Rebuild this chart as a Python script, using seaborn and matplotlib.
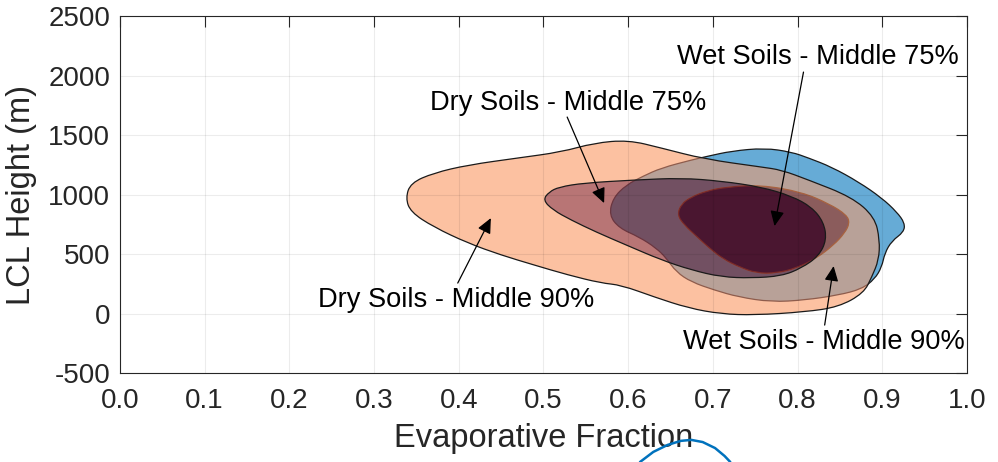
import numpy as np
import matplotlib
matplotlib.use('Agg')
import seaborn as sns
import matplotlib.pyplot as plt
from matplotlib.path import Path
from matplotlib.patches import PathPatch

sns.set_theme(style='white')
plt.rcParams['font.family'] = ['Liberation Sans', 'DejaVu Sans']
plt.rcParams['axes.unicode_minus'] = False

# contour outlines (evaporative fraction, LCL height in m)
dry90_ef = [.3373, .3432, .3704, .4107, .4698, .5207, .5598, .6000, .6391, .6899, .7574, .7811,
            .8130, .8639, .8911, .8970, .8959, .8876, .8781, .8485, .8083, .7491, .7101, .6710,
            .6308, .5917, .5680, .5290, .4888, .4497, .4107, .3704, .3432]
dry90_lcl = [971, 1097, 1181, 1248, 1307, 1357, 1433, 1458, 1391, 1298, 1231, 1206,
             1122, 979, 811, 618, 450, 307, 172, 55, 13, -13, -4, 46,
             139, 239, 256, 324, 408, 492, 592, 727, 853]

dry75_ef = [.4994, .5065, .5183, .5479, .6071, .6627, .7101, .7574, .7929, .8166, .8308, .8343,
            .8249, .8047, .7811, .7456, .7101, .6746, .6391, .5976, .5621, .5325, .5112]
dry75_lcl = [954, 1021, 1063, 1097, 1122, 1139, 1113, 1063, 987, 895, 769, 618,
             483, 382, 315, 298, 307, 366, 450, 576, 685, 786, 870]

wet90_ef = [.5775, .5822, .5976, .6178, .6391, .6746, .6947, .7219, .7609, .7929, .8130, .8402,
            .8722, .8994, .9172, .9266, .9254, .9112, .9030, .8994, .8911, .8757, .8485, .8083,
            .7692, .7302, .7018, .6746, .6568, .6450, .6331, .6130, .5893]
wet90_lcl = [828, 971, 1080, 1155, 1223, 1290, 1323, 1365, 1391, 1357, 1307, 1231,
             1105, 971, 853, 760, 685, 609, 508, 391, 290, 206, 155, 113,
             97, 139, 197, 265, 349, 466, 550, 643, 718]

wet75_ef = [.6580, .6627, .6746, .6923, .7160, .7574, .8047, .8379, .8580, .8615, .8556, .8426,
            .8225, .7988, .7751, .7515, .7314, .7124, .6959, .6805, .6663]
wet75_lcl = [828, 920, 979, 1029, 1063, 1080, 1021, 920, 828, 760, 676, 576,
             466, 382, 340, 340, 391, 458, 550, 651, 744]

ann_labels = ['Wet Soils - Middle 75%', 'Dry Soils - Middle 75%',
              'Dry Soils - Middle 90%', 'Wet Soils - Middle 90%']
ann_text = [(.8237, 2155), (.5290, 1769), (.3964, 113), (.8308, -240)]
ann_tail = [(.8070, 2029), (.5280, 1651), (.3988, 256), (.8320, -97)]
ann_tip = [(.7728, 735), (.5716, 928), (.4379, 802), (.8426, 399)]

# piece of the panel below, cut off at the bottom edge
lower_x = [0, .14, .29, .43, .54, .66, .79, .89, .95]
lower_y = [0, .42, .71, .88, .92, .83, .58, .25, 0]

x_ticks = np.round(np.arange(0, 1.01, 0.1), 1)
y_ticks = [-500, 0, 500, 1000, 1500, 2000, 2500]


def smooth_path(xs, ys):
    pts = np.column_stack([xs, ys]).astype(float)
    mids = (pts + np.roll(pts, -1, axis=0)) / 2
    verts = [mids[-1]]
    codes = [Path.MOVETO]
    for p, m in zip(pts, mids):
        verts += [p, m]
        codes += [Path.CURVE3, Path.CURVE3]
    verts.append(mids[-1])
    codes.append(Path.CLOSEPOLY)
    return Path(verts, codes)


fig = plt.figure(figsize=(9.98, 4.62), dpi=100)
ax = fig.add_axes([0.1202, 0.1926, 0.8487, 0.7727])


def region(path, face, edge='none', clip=None, z=1.0, lw=0.9):
    p = PathPatch(path, facecolor=face, edgecolor=edge, lw=lw, zorder=z)
    ax.add_patch(p)
    if clip is not None:
        p.set_clip_path(clip)
    return p


dry90 = smooth_path(dry90_ef, dry90_lcl)
dry75 = smooth_path(dry75_ef, dry75_lcl)
wet90 = smooth_path(wet90_ef, wet90_lcl)
wet75 = smooth_path(wet75_ef, wet75_lcl)

region(wet90, '#66abd6', edge='#1a1a1a', z=1.0)
dry90_p = region(dry90, '#fcc1a1', z=1.1)
region(wet90, '#b8a198', edge='#8e5c4c', clip=dry90_p, z=1.2)
dry75_p = region(dry75, '#b87575', z=1.3)
region(wet90, '#725062', edge='#6a3640', clip=dry75_p, z=1.4)
region(wet75, '#8b5c5c', edge='#a8623f', z=1.5)
region(wet75, '#4a1630', edge='#7a2a2a', clip=dry75_p, z=1.6)
region(dry90, 'none', edge='#1a1a1a', z=1.7)
region(dry75, 'none', edge='#1a1a1a', z=1.7)

for lab, t, a, b in zip(ann_labels, ann_text, ann_tail, ann_tip):
    ax.annotate('', xy=b, xytext=a,
                arrowprops=dict(arrowstyle='-|>,head_length=0.65,head_width=0.3',
                                color='black', lw=0.9, mutation_scale=14,
                                shrinkA=0, shrinkB=0), zorder=4)
    ax.text(t[0], t[1], lab, ha='center', va='center', fontsize=19.6, color='black', zorder=4)

ax.set_xlim(0, 1)
ax.set_ylim(-500, 2500)
ax.set_xticks(x_ticks)
ax.set_xticklabels(['%.1f' % v for v in x_ticks])
ax.set_yticks(y_ticks)
ax.set_axisbelow(False)
ax.grid(True, color='black', alpha=0.075, lw=0.8)
ax.tick_params(direction='in', length=8, width=0.8, top=True, right=True,
               colors='#262626', labelsize=20)
ax.tick_params(axis='x', pad=11)
ax.tick_params(axis='y', pad=7)
for s in ax.spines.values():
    s.set_color('#262626')
    s.set_linewidth(0.8)
    s.set_zorder(5)
ax.set_xlabel('Evaporative Fraction', fontsize=23.5, color='#262626', labelpad=6)
ax.set_ylabel('LCL Height (m)', fontsize=23.5, color='#262626', labelpad=8)

ax2 = fig.add_axes([0.6413, 0.0, 0.0952, 0.052])
ax2.plot(lower_x, lower_y, color='#0072bd', lw=1.8, clip_on=False)
ax2.set_xlim(0, 1)
ax2.set_ylim(0, 1)
ax2.axis('off')

fig.savefig('out.png', dpi=100)
